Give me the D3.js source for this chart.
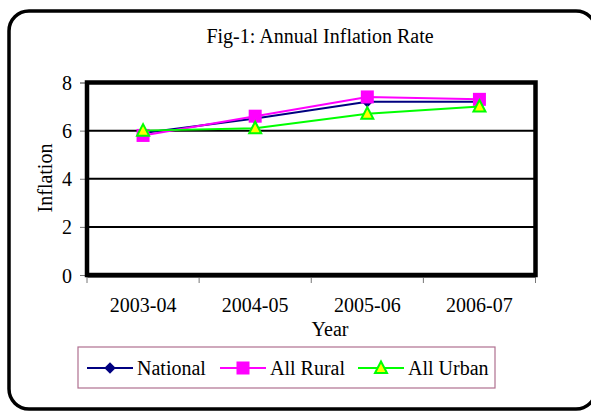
<!DOCTYPE html>
<meta charset="utf-8">
<style>
    body { margin: 0; background: #fff; }
    text { font-family: "Liberation Serif", "Times New Roman", serif; fill: #000; }
</style>
<svg width="591" height="412"></svg>
<script src="https://d3js.org/d3.v7.min.js"></script>
<script>

    // data
    var years = ["2003-04", "2004-05", "2005-06", "2006-07"];
    var national = [5.9, 6.5, 7.2, 7.2];
    var allRural = [5.8, 6.6, 7.4, 7.3];
    var allUrban = [6.0, 6.1, 6.7, 7.0];
    var yTicks = [0, 2, 4, 6, 8];

    var series = [
        { name: "National", values: national, color: "#000080", marker: "diamond" },
        { name: "All Rural", values: allRural, color: "#ff00ff", marker: "square" },
        { name: "All Urban", values: allUrban, color: "#00ff00", marker: "triangle" }
    ];

    var svg = d3.select("svg");

    // outer rounded chart border
    svg.append("rect")
        .attr("x", 9).attr("y", 11)
        .attr("width", 587).attr("height", 398)
        .attr("rx", 20)
        .attr("fill", "#fff")
        .attr("stroke", "#000")
        .attr("stroke-width", 3.5);

    svg.append("text")
        .attr("x", 320).attr("y", 43)
        .attr("text-anchor", "middle")
        .attr("font-size", 20)
        .text("Fig-1: Annual Inflation Rate");

    var plotL = 87, plotR = 535.5, plotT = 82.5, plotB = 275;

    var x = d3.scaleBand().domain(years).range([plotL, plotR]);
    var y = d3.scaleLinear().domain([0, 8]).range([plotB, plotT]);

    // axes (gray, slightly outside the frame)
    var yAxis = svg.append("g")
        .attr("transform", "translate(" + (plotL - 2) + ",0)")
        .call(d3.axisLeft(y).tickValues(yTicks).tickSize(5).tickPadding(8));
    yAxis.selectAll("path, line").attr("stroke", "#777");
    yAxis.selectAll("text").attr("font-size", 20).attr("font-family", "Liberation Serif").attr("dy", "0.35em");

    var xAxis = svg.append("g")
        .attr("transform", "translate(0," + (plotB + 2) + ")")
        .call(d3.axisBottom(x).tickSize(0).tickPadding(21));
    xAxis.select("path").attr("stroke", "#777");
    xAxis.selectAll("text").attr("font-size", 20).attr("font-family", "Liberation Serif");
    // category boundary ticks
    var bounds = years.map(function(d) { return x(d); }).concat([plotR]);
    xAxis.selectAll(".bt").data(bounds).enter().append("line")
        .attr("x1", function(d) { return d; }).attr("x2", function(d) { return d; })
        .attr("y1", 0).attr("y2", 6)
        .attr("stroke", "#777");

    // gridlines
    svg.append("g").selectAll("line")
        .data(yTicks.filter(function(d) { return d > 0 && d < 8; }))
        .enter().append("line")
        .attr("x1", plotL).attr("x2", plotR)
        .attr("y1", function(d) { return y(d); }).attr("y2", function(d) { return y(d); })
        .attr("stroke", "#000")
        .attr("stroke-width", 2);

    // plot frame
    svg.append("rect")
        .attr("x", plotL).attr("y", plotT)
        .attr("width", plotR - plotL).attr("height", plotB - plotT)
        .attr("fill", "none")
        .attr("stroke", "#000")
        .attr("stroke-width", 4.5);

    // axis titles
    svg.append("text")
        .attr("transform", "translate(52,178) rotate(-90)")
        .attr("text-anchor", "middle")
        .attr("font-size", 20)
        .text("Inflation");

    svg.append("text")
        .attr("x", 330).attr("y", 336)
        .attr("text-anchor", "middle")
        .attr("font-size", 20)
        .text("Year");

    function drawMarker(g, type, color, cx, cy) {
        if (type === "diamond") {
            g.append("path")
                .attr("d", d3.symbol().type(d3.symbolDiamond2).size(85)())
                .attr("transform", "translate(" + cx + "," + cy + ")")
                .attr("fill", color);
        } else if (type === "square") {
            g.append("rect")
                .attr("x", cx - 6.5).attr("y", cy - 6.5)
                .attr("width", 13).attr("height", 13)
                .attr("fill", color);
        } else {
            g.append("path")
                .attr("d", "M0,-6.5L6,5L-6,5Z")
                .attr("transform", "translate(" + cx + "," + cy + ")")
                .attr("fill", "#ffff00")
                .attr("stroke", color)
                .attr("stroke-width", 2);
        }
    }

    var line = d3.line()
        .x(function(d, i) { return x(years[i]) + x.bandwidth() / 2; })
        .y(function(d) { return y(d); });

    series.forEach(function(s) {
        var g = svg.append("g");
        g.append("path")
            .attr("d", line(s.values))
            .attr("fill", "none")
            .attr("stroke", s.color)
            .attr("stroke-width", 2);
        s.values.forEach(function(v, i) {
            drawMarker(g, s.marker, s.color, x(years[i]) + x.bandwidth() / 2, y(v));
        });
    });

    // legend
    svg.append("rect")
        .attr("x", 78).attr("y", 347)
        .attr("width", 417).attr("height", 41)
        .attr("fill", "#fff")
        .attr("stroke", "#b07090")
        .attr("stroke-width", 1.2);

    var legendX = [87, 220, 358];
    series.forEach(function(s, i) {
        var g = svg.append("g");
        var x0 = legendX[i], ly = 368;
        g.append("line")
            .attr("x1", x0).attr("x2", x0 + 46)
            .attr("y1", ly).attr("y2", ly)
            .attr("stroke", s.color)
            .attr("stroke-width", 2);
        drawMarker(g, s.marker, s.color, x0 + 23, ly);
        g.append("text")
            .attr("x", x0 + 50).attr("y", ly + 7)
            .attr("font-size", 20)
            .text(s.name);
    });

</script>
